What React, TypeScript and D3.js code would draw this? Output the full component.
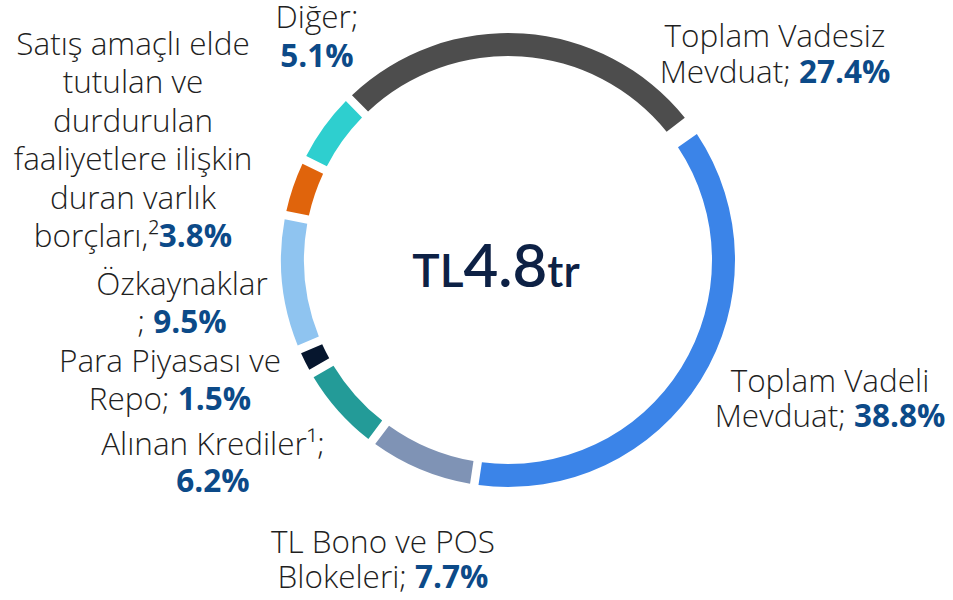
import * as d3 from "d3";

// Passive composition (liabilities), share of total
const categories = [
  "Toplam Vadesiz Mevduat",
  "Toplam Vadeli Mevduat",
  "TL Bono ve POS Blokeleri",
  "Alınan Krediler",
  "Para Piyasası ve Repo",
  "Özkaynaklar",
  "Satış amaçlı elde tutulan ve durdurulan faaliyetlere ilişkin duran varlık borçları",
  "Diğer",
];
const shares = [27.4, 38.8, 7.7, 6.2, 1.5, 9.5, 3.8, 5.1];
const colors = ["#4d4d4d", "#3b84e8", "#7f93b5", "#239b98", "#06162e", "#8fc4f0", "#e0640c", "#2ecfcf"];

// label text, last line gets the bold percentage appended
const labelLines = [
  ["Toplam Vadesiz", "Mevduat; "],
  ["Toplam Vadeli", "Mevduat; "],
  ["TL Bono ve POS", "Blokeleri; "],
  ["Alınan Krediler¹;", ""],
  ["Para Piyasası ve", "Repo; "],
  ["Özkaynaklar", "; "],
  ["Satış amaçlı elde", "tutulan ve", "durdurulan", "faaliyetlere ilişkin", "duran varlık", "borçları,²"],
  ["Diğer;", ""],
];

const totalLabel = { prefix: "TL", value: "4.8", suffix: "tr" };

// label anchors: center x, first baseline, line height
const LABEL_POS = [
  { x: 775, y: 47, lh: 36 },
  { x: 830, y: 392, lh: 35 },
  { x: 383, y: 553, lh: 35 },
  { x: 213, y: 455, lh: 37 },
  { x: 170, y: 372, lh: 38 },
  { x: 182, y: 295, lh: 38 },
  { x: 133, y: 55, lh: 38.4 },
  { x: 317, y: 28, lh: 39 },
];

const W = 953;
const H = 600;
const CX = 508;
const CY = 260;
const R_OUT = 227;
const R_IN = 204;
const FONT = "'Open Sans', 'Noto Sans', sans-serif";

const rad = (deg: number) => (deg * Math.PI) / 180;

export default function App() {
  const data = shares.map((v, i) => ({ name: categories[i], value: v, color: colors[i] }));

  const pie = d3
    .pie<{ name: string; value: number; color: string }>()
    .sort(null)
    .value((d) => d.value)
    .startAngle(rad(-44.5))
    .endAngle(rad(315.5))
    .padAngle(rad(1.6));

  const arcs = pie(data);
  const arcGen = d3.arc<any>().innerRadius(R_IN).outerRadius(R_OUT);
  const fmt = d3.format(".1f");

  return (
    <svg width={W} height={H} style={{ position: "absolute", left: 0, top: 0, background: "#fff" }}>
      <g transform={`translate(${CX},${CY})`}>
        {arcs.map((a, i) => {
          // the term deposit block has a slightly wider gap on its leading side
          const adj = i === 1 ? { ...a, startAngle: a.startAngle + rad(3) } : a;
          return <path key={i} d={arcGen(adj) || ""} fill={a.data.color} />;
        })}
        <text
          textAnchor="middle"
          x={-12}
          y={27}
          fontFamily="'Lato', 'Open Sans', sans-serif"
          fontWeight={600}
          fill="#0d2145"
        >
          <tspan fontSize={46}>{totalLabel.prefix}</tspan>
          <tspan fontSize={60}>{totalLabel.value}</tspan>
          <tspan fontSize={44}>{totalLabel.suffix}</tspan>
        </text>
      </g>
      {labelLines.map((lines, i) => {
        const p = LABEL_POS[i];
        return (
          <text
            key={i}
            textAnchor="middle"
            fontFamily={FONT}
            fontSize={31.5}
            fontWeight={300}
            fill="#1f1f1f"
          >
            {lines.map((ln, j) => (
              <tspan key={j} x={p.x} y={p.y + j * p.lh}>
                {ln}
                {j === lines.length - 1 ? (
                  <tspan fontWeight={700} fill="#0c4a88">
                    {fmt(shares[i])}%
                  </tspan>
                ) : null}
              </tspan>
            ))}
          </text>
        );
      })}
    </svg>
  );
}
